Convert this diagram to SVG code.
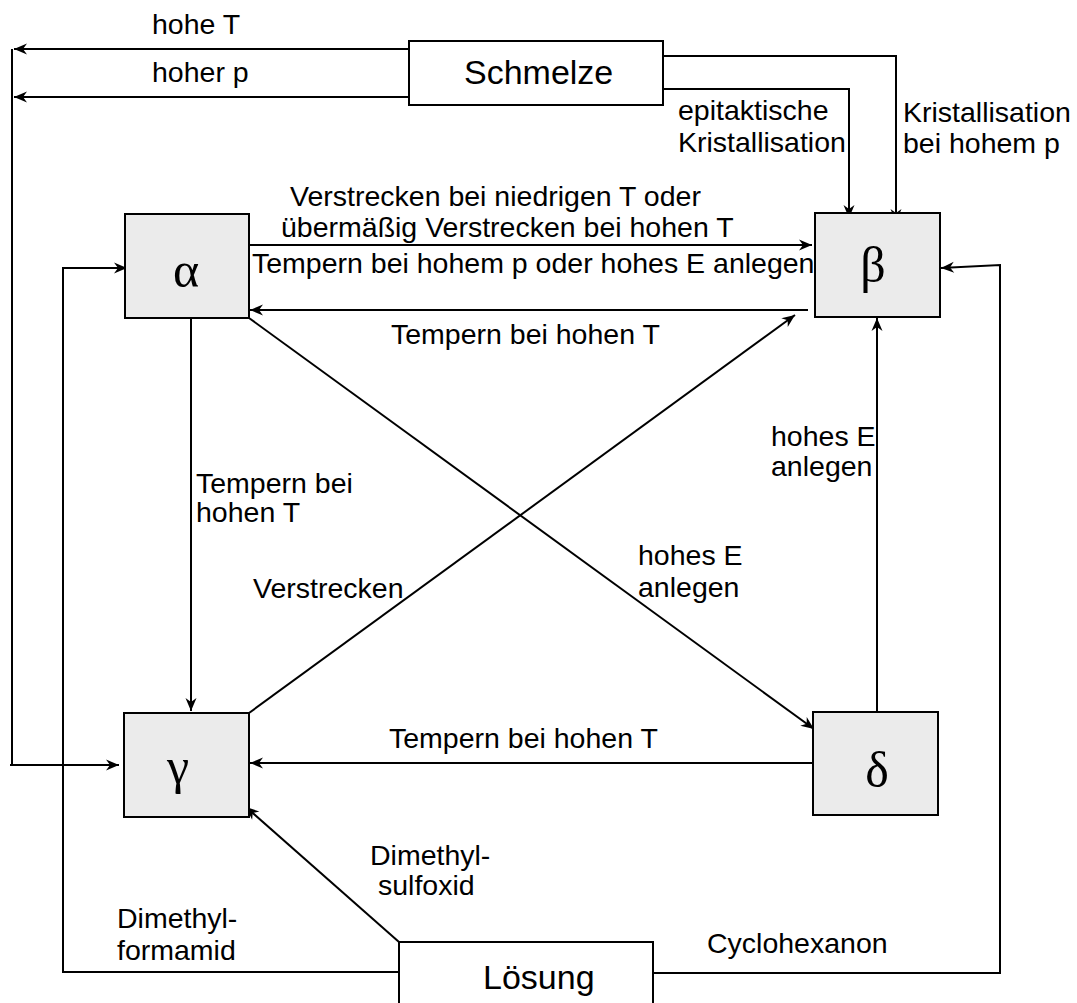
<svg xmlns="http://www.w3.org/2000/svg" width="1077" height="1003" viewBox="0 0 1077 1003">
<style>
.box{fill:#ffffff;stroke:#000;stroke-width:2}
.gbox{fill:#ebebeb;stroke:#000;stroke-width:2}
.ln{fill:none;stroke:#000;stroke-width:2}
.t{font-family:"Liberation Sans",Arial,sans-serif;font-size:28.5px;fill:#000}
.big{font-family:"Liberation Sans",Arial,sans-serif;font-size:34px;fill:#000}
.gr{font-family:"Liberation Serif","Times New Roman",serif;font-size:50px;fill:#000;text-anchor:middle}
</style>
<defs>
<marker id="ah" markerUnits="userSpaceOnUse" markerWidth="16" markerHeight="12" viewBox="-14 -6 16 12" refX="0" refY="0" orient="auto">
<path d="M0,0 L-13,-5.5 L-9,0 L-13,5.5 Z" fill="#000"/>
</marker>
</defs>
<g id="connectors">
<path class="ln" d="M409,49 H14" marker-end="url(#ah)"/>
<path class="ln" d="M409,97 H14" marker-end="url(#ah)"/>
<path class="ln" d="M12,49 V765"/>
<path class="ln" d="M10,765 H119" marker-end="url(#ah)"/>
<path class="ln" d="M399,972 H63 V268 H127" marker-end="url(#ah)"/>
<path class="ln" d="M653,973 H1000 V265 L941,268" marker-end="url(#ah)"/>
<path class="ln" d="M662,89 H849 V218" marker-end="url(#ah)"/>
<path class="ln" d="M662,56 H896 V222" marker-end="url(#ah)"/>
<path class="ln" d="M247,245 H812" marker-end="url(#ah)"/>
<path class="ln" d="M808,310 H250" marker-end="url(#ah)"/>
<path class="ln" d="M191,318 V711" marker-end="url(#ah)"/>
<path class="ln" d="M249,318 L814,729" marker-end="url(#ah)"/>
<path class="ln" d="M249,713 L795,315" marker-end="url(#ah)"/>
<path class="ln" d="M877,712 V318" marker-end="url(#ah)"/>
<path class="ln" d="M813,763 H250" marker-end="url(#ah)"/>
<path class="ln" d="M399,942 L246,807" marker-end="url(#ah)"/>
</g>
<g id="labels">
<text class="t" x="152" y="34">hohe T</text>
<text class="t" x="152" y="82">hoher p</text>
<text class="t" x="678" y="120">epitaktische</text>
<text class="t" x="678" y="152">Kristallisation</text>
<text class="t" x="903" y="122">Kristallisation</text>
<text class="t" x="903" y="153">bei hohem p</text>
<text class="t" x="290" y="206">Verstrecken bei niedrigen T oder</text>
<text class="t" x="281" y="237">übermäßig Verstrecken bei hohen T</text>
<text class="t" x="252" y="273">Tempern bei hohem p oder hohes E anlegen</text>
<text class="t" x="391" y="344">Tempern bei hohen T</text>
<text class="t" x="771" y="446">hohes E</text>
<text class="t" x="771" y="476">anlegen</text>
<text class="t" x="196" y="493">Tempern bei</text>
<text class="t" x="196" y="522">hohen T</text>
<text class="t" x="638" y="565">hohes E</text>
<text class="t" x="638" y="597">anlegen</text>
<text class="t" x="253" y="598">Verstrecken</text>
<text class="t" x="389" y="748">Tempern bei hohen T</text>
<text class="t" x="370" y="865">Dimethyl-</text>
<text class="t" x="378" y="895">sulfoxid</text>
<text class="t" x="117" y="928">Dimethyl-</text>
<text class="t" x="117" y="960">formamid</text>
<text class="t" x="707" y="953">Cyclohexanon</text>
</g>
<g id="schmelze">
<rect class="box" x="409" y="41" width="254" height="64"/>
<text class="big" x="464" y="84">Schmelze</text>
</g>
<g id="alpha">
<rect class="gbox" x="125" y="214" width="124" height="104"/>
<text class="gr" x="186" y="287">α</text>
</g>
<g id="beta">
<rect class="gbox" x="815" y="213" width="125" height="104"/>
<text class="gr" x="873" y="282">β</text>
</g>
<g id="gamma">
<rect class="gbox" x="124" y="713" width="125" height="104"/>
<text class="gr" x="178" y="783">γ</text>
</g>
<g id="delta">
<rect class="gbox" x="813" y="712" width="125" height="103"/>
<text class="gr" x="877" y="787">δ</text>
</g>
<g id="loesung">
<rect class="box" x="399" y="942" width="254" height="70"/>
<text class="big" x="483" y="989">Lösung</text>
</g>
</svg>
